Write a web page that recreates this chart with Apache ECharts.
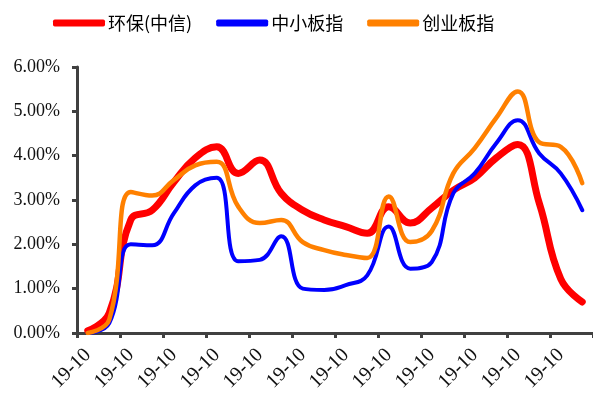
<!DOCTYPE html>
<html>
<head>
<meta charset="utf-8">
<script src="https://cdn.jsdelivr.net/npm/echarts@6/dist/echarts.min.js"></script>
<style>
  html, body { margin: 0; padding: 0; background: #fff; }
  #chart { width: 593px; height: 399px; }
</style>
</head>
<body>
<div id="chart"></div>
<script>
// 数据（%）
const categories = Array(24).fill('19-10');
const seriesNames = ['环保(中信)', '中小板指', '创业板指'];
const envData = [0.05, 0.45, 2.55, 2.77, 3.4, 3.95, 4.2, 3.6, 3.9, 3.15, 2.77, 2.55, 2.4, 2.25, 2.85, 2.48, 2.82, 3.22, 3.5, 3.95, 4.25, 2.93, 1.22, 0.7];
const smeData = [0.0, 0.22, 2.0, 1.98, 2.7, 3.33, 3.5, 1.62, 1.65, 2.18, 1.0, 0.97, 1.08, 1.3, 2.4, 1.45, 1.6, 3.15, 3.6, 4.28, 4.8, 4.05, 3.6, 2.77];
const gemData = [0.0, 0.3, 3.18, 3.1, 3.45, 3.78, 3.86, 2.85, 2.48, 2.55, 2.05, 1.87, 1.76, 1.69, 3.08, 2.05, 2.3, 3.6, 4.17, 4.85, 5.45, 4.3, 4.2, 3.38];
const colors = ['#ff0000', '#0000ff', '#ff8000'];

const chart = echarts.init(document.getElementById('chart'));

const axisColor = '#404040';
const serifFont = '"Liberation Serif", "DejaVu Serif", serif';

const option = {
  animation: false,
  color: colors,
  legend: {
    top: 9,
    left: 48,
    itemWidth: 52,
    itemHeight: 7,
    itemGap: 24,
    icon: 'roundRect',
    textStyle: {
      fontFamily: '"Noto Sans CJK SC", sans-serif',
      fontSize: 18,
      color: '#000',
      padding: [0, 0, 0, -2],
    },
    data: seriesNames,
  },
  grid: {
    left: 77,
    right: 0,
    top: 67,
    bottom: 66,
    containLabel: false,
  },
  xAxis: {
    type: 'category',
    data: categories,
    boundaryGap: true,
    axisLine: { lineStyle: { color: axisColor, width: 3 } },
    axisTick: {
      show: true,
      interval: 1,
      length: 5,
      lineStyle: { color: axisColor, width: 3 },
    },
    axisLabel: {
      interval: 1,
      rotate: 45,
      margin: 19,
      fontFamily: serifFont,
      fontSize: 20,
      color: '#111',
    },
    splitLine: { show: false },
  },
  yAxis: {
    type: 'value',
    min: 0,
    max: 6,
    interval: 1,
    axisLine: { show: true, lineStyle: { color: axisColor, width: 3 } },
    axisTick: {
      show: true,
      length: 5,
      lineStyle: { color: axisColor, width: 3 },
    },
    axisLabel: {
      margin: 17,
      fontFamily: serifFont,
      fontSize: 18,
      color: '#111',
      formatter: (v) => v.toFixed(2) + '%',
    },
    splitLine: { show: false },
  },
  series: [
    {
      name: seriesNames[0],
      type: 'line',
      data: envData,
      smooth: 0.45,
      symbol: 'none',
      lineStyle: { width: 7, cap: 'round', join: 'round' },
    },
    {
      name: seriesNames[1],
      type: 'line',
      data: smeData,
      smooth: 0.45,
      symbol: 'none',
      lineStyle: { width: 4, cap: 'round', join: 'round' },
    },
    {
      name: seriesNames[2],
      type: 'line',
      data: gemData,
      smooth: 0.45,
      symbol: 'none',
      lineStyle: { width: 4.5, cap: 'round', join: 'round' },
    },
  ],
};

chart.setOption(option);
</script>
</body>
</html>
